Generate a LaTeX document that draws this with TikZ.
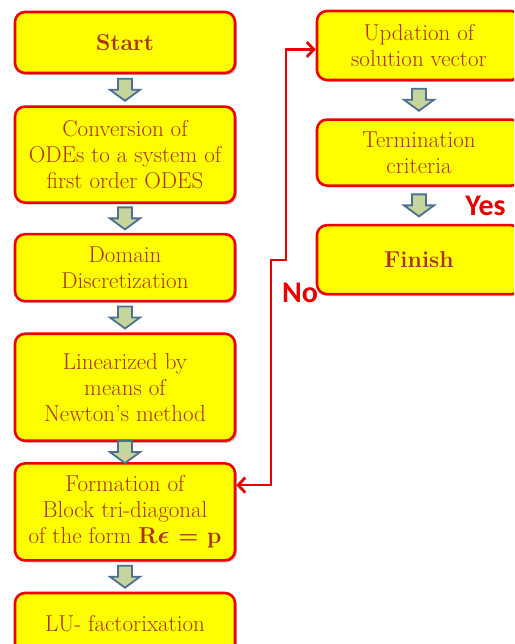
\documentclass[tikz,border=0pt]{standalone}
\usepackage{amsmath}
\usepackage{fontspec}
\newfontfamily\labelfont{Carlito}
\usetikzlibrary{
  positioning,
  calc,
  arrows.meta,
  shadows
}
\definecolor{boxyellow}{HTML}{FFFF00}
\definecolor{boxred}{HTML}{EE0000}
\definecolor{textbrown}{HTML}{A93212}
\definecolor{arrowfill}{HTML}{C5D59C}
\definecolor{arrowedge}{HTML}{4E6F91}
\definecolor{loopred}{HTML}{E80000}
\tikzset{
  stage/.style={
    rectangle, draw=boxred, fill=boxyellow, rounded corners=10pt,
    minimum width=#1, align=center, text=textbrown,
    font=\addfontfeature{FakeBold=0.6}\fontsize{23}{26}\selectfont, line width=2.6pt,
    drop shadow={shadow xshift=2pt, shadow yshift=-2pt, opacity=0.25, fill=black}
  },
  stage/.default=220pt,
  loopline/.style={{Straight Barb[length=7pt, width=15pt]}-{Straight Barb[length=7pt, width=15pt]}, draw=loopred, line width=2.8pt},
  answer/.style={text=loopred, font=\labelfont\bfseries\fontsize{30}{30}\selectfont, inner sep=0pt},
  blockarrow/.pic={
    \draw[arrowedge, fill=arrowfill, line width=1.8pt, line join=miter]
      (-7,11) -- (7,11) -- (7,0) -- (15,0) -- (0,-11) -- (-15,0) -- (-7,0) -- cycle;
  }
}

\begin{document}
\begin{tikzpicture}[x=1pt, y=1pt]

\useasboundingbox (0,0) rectangle (514,644);
\fill[white] (0,0) rectangle (514,644);
\clip (0,0) rectangle (514,644);

% Left column
\node[stage, minimum height=61pt] (start) at (125,601.5) {\textbf{Start}};
\node[stage, minimum height=96pt, below=31pt of start] (conv) {Conversion of\\ODEs to a system of\\first order ODES};
\node[stage, minimum height=67pt, below=29pt of conv] (domain) {Domain\\Discretization};
\node[stage, minimum height=107pt, below=30pt of domain] (linear) {Linearized by\\means of\\Newton’s method};
\node[stage, minimum height=97pt, below=20pt of linear] (form) {Formation of\\Block tri-diagonal\\of the form \textbf{R}$\boldsymbol{\epsilon}$\textbf{ = p}};
\node[stage, minimum height=61pt, below=30pt of form] (lufact) {LU- factorixation};

% Right column
\node[stage=204pt, minimum height=69pt] (update) at (419,598.5) {Updation of\\solution vector};
\node[stage=204pt, minimum height=66pt, below=37pt of update] (term) {Termination\\criteria};
\node[stage=204pt, minimum height=69pt, below=37pt of term] (finish) {\textbf{Finish}};

% Block arrows
\pic at ($(start.south)!0.5!(conv.north)$) {blockarrow};
\pic at ($(conv.south)!0.5!(domain.north)$) {blockarrow};
\pic at ($(domain.south)!0.5!(linear.north)$) {blockarrow};
\pic at ($(linear.south)!0.5!(form.north)$) {blockarrow};
\pic at ($(form.south)!0.5!(lufact.north)$) {blockarrow};
\pic at ($(update.south)!0.5!(term.north)$) {blockarrow};
\pic at ($(term.south)!0.5!(finish.north)$) {blockarrow};

% Iteration loop
\coordinate (jogA) at (271,384);
\coordinate (jogB) at (286,384);
\draw[loopline] ([yshift=-23pt]form.north east) -| (jogA) -- (jogB) |- ([yshift=-4pt]update.west);

% Answers
\node[answer] (no) at (300,351.5) {No};
\node[answer] (yes) at (485.5,438) {Yes};

\end{tikzpicture}
\end{document}
